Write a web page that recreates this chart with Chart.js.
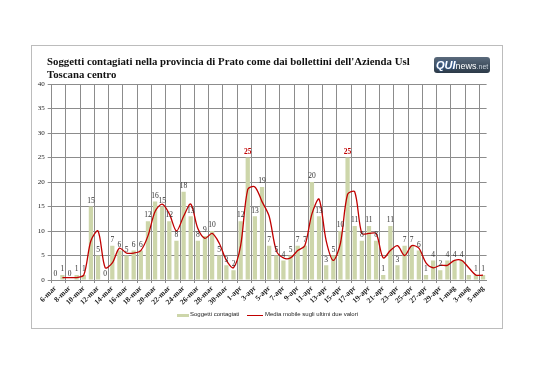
<!DOCTYPE html>
<html><head><meta charset="utf-8">
<script src="https://cdn.jsdelivr.net/npm/chart.js@4.4.1/dist/chart.umd.min.js"></script>
<style>
html,body{margin:0;padding:0;background:#fff;}
#wrap{position:relative;width:538px;height:380px;overflow:hidden;}
#frame{position:absolute;left:31px;top:45px;width:472px;height:284px;border:1px solid #bcbcbc;box-sizing:border-box;}
#title{position:absolute;left:47px;top:55px;font-family:"Liberation Serif",serif;font-weight:bold;font-size:10.8px;line-height:12.5px;color:#111;}
#logo{position:absolute;left:434px;top:57px;width:56px;height:16px;background:linear-gradient(#5a6a7c,#2c3a48);border-radius:3px;font-family:"Liberation Sans",sans-serif;color:#fff;font-size:9px;line-height:16px;white-space:nowrap;}
#logo b{font-size:11px;font-style:italic;color:#fff;text-shadow:0 0 2px #2a6bd0;margin-left:2px;}
#logo i{font-style:normal;color:#c9d2dc;font-size:7px;}
canvas{position:absolute;left:0;top:0;}
.lg{position:absolute;top:311px;font-family:"Liberation Sans",sans-serif;font-size:6px;color:#222;white-space:nowrap;}
.sw{position:absolute;}
</style></head>
<body><div id="wrap">
<div id="frame"></div>
<canvas id="c" width="538" height="380"></canvas>
<div id="title">Soggetti contagiati nella provincia di Prato come dai bollettini dell'Azienda Usl<br>Toscana centro</div>
<div id="logo"><b>QUI</b>news<i>.net</i></div>
<div class="sw" style="left:177px;top:314px;width:12px;height:3px;background:#cdd6aa;"></div>
<div class="lg" style="left:190px;">Soggetti contagiati</div>
<div class="sw" style="left:247px;top:315px;width:16px;height:1.3px;background:#c00000;"></div>
<div class="lg" style="left:265px;">Media mobile sugli ultimi due valori</div>
</div>
<script>
const dates = ['6-mar','7-mar','8-mar','9-mar','10-mar','11-mar','12-mar','13-mar','14-mar','15-mar','16-mar','17-mar','18-mar','19-mar','20-mar','21-mar','22-mar','23-mar','24-mar','25-mar','26-mar','27-mar','28-mar','29-mar','30-mar','31-mar',
'1-apr','2-apr','3-apr','4-apr','5-apr','6-apr','7-apr','8-apr','9-apr','10-apr','11-apr','12-apr','13-apr','14-apr','15-apr','16-apr','17-apr','18-apr','19-apr','20-apr','21-apr','22-apr','23-apr','24-apr','25-apr','26-apr','27-apr','28-apr','29-apr','30-apr',
'1-mag','2-mag','3-mag','4-mag','5-mag'];
const cases = [0,1,0,1,1,15,5,0,7,6,5,6,6,12,16,15,12,8,18,13,8,9,10,5,3,2,
12,25,13,19,7,5,4,5,7,7,20,13,3,5,10,25,11,8,11,8,1,11,3,7,7,6,1,4,2,4,
4,4,1,1,1];
const movingAvg = [null,0.5,0.5,0.5,1,8,10,2.5,3.5,6.5,5.5,5.5,6,9,14,15.5,13.5,10,13,15.5,10.5,8.5,9.5,7.5,4,2.5,
7,18.5,19,16,13,6,4.5,4.5,6,7,13.5,16.5,8,4,7.5,17.5,18,9.5,9.5,9.5,4.5,6,7,5,7,6.5,3.5,2.5,3,3,
4,4,2.5,1,1];
const yTicks = [0,5,10,15,20,25,30,35,40];

const labelPlugin = {
  id:'barLabels',
  afterDatasetsDraw(chart){
    const ctx = chart.ctx;
    const meta = chart.getDatasetMeta(1);
    ctx.save();
    ctx.textAlign='center';
    ctx.textBaseline='bottom';
    meta.data.forEach((el,i)=>{
      const v = cases[i];
      if (i===58) return;
      const hi = v===25;
      ctx.font = (hi?'bold ':'')+'7.5px "Liberation Serif", serif';
      ctx.fillStyle = hi ? '#c00000' : '#333';
      ctx.fillText(String(v), el.x, el.y-2);
    });
    ctx.restore();
  }
};

new Chart(document.getElementById('c'), {
  data:{
    labels: dates,
    datasets:[
      {type:'line', label:'Media mobile sugli ultimi due valori', data:movingAvg, borderColor:'#c00000', borderWidth:1.3, pointRadius:0, tension:0.3, spanGaps:false, order:0},
      {type:'bar', label:'Soggetti contagiati', data:cases, backgroundColor:'#cdd6aa', categoryPercentage:1, barPercentage:0.6, order:1}
    ]
  },
  options:{
    responsive:false, animation:false,
    layout:{padding:{left:30,right:51.4,top:84,bottom:60}},
    plugins:{legend:{display:false}, tooltip:{enabled:false}},
    scales:{
      x:{
        afterFit(s){s.height=40;},
        grid:{offset:true, color:(c)=> (c.index%2===0 ? '#8c8c8c' : (c.index===61?'#cccccc':'rgba(0,0,0,0)')), tickLength:3, lineWidth:1},
        border:{color:'#8c8c8c'},
        ticks:{autoSkip:false, maxRotation:45, minRotation:45, padding:1, color:'#222',
          font:{family:'"Liberation Serif", serif', size:7.5, weight:'bold'},
          callback:(v,i)=> (i%2===0 ? dates[i] : '')}
      },
      y:{
        min:0, max:40,
        afterFit(s){s.width=21.7;},
        afterBuildTicks(s){s.ticks = yTicks.map(v=>({value:v}));},
        grid:{color:'#8c8c8c', tickLength:4},
        border:{color:'#8c8c8c'},
        ticks:{padding:3, color:'#222', font:{family:'"Liberation Serif", serif', size:7}}
      }
    }
  },
  plugins:[labelPlugin]
});
</script>
</body></html>
